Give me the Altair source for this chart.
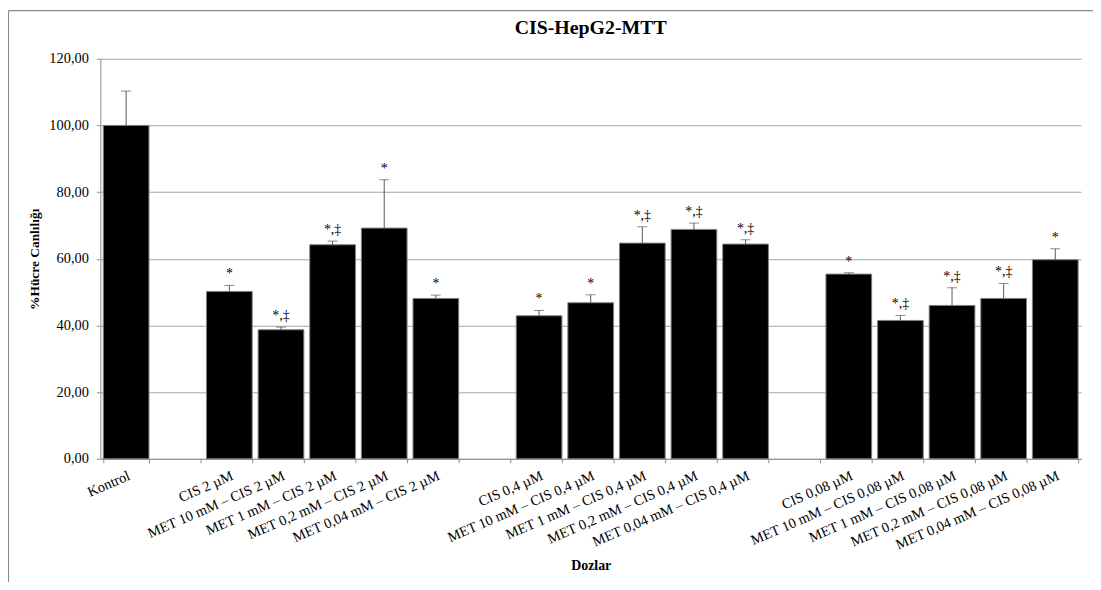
import altair as alt
import pandas as pd

categories = [
    "Kontrol", "_g1",
    "CIS 2 µM", "MET 10 mM – CIS 2 µM", "MET 1 mM – CIS 2 µM", "MET 0,2 mM – CIS 2 µM", "MET 0,04 mM – CIS 2 µM", "_g2",
    "CIS 0,4 µM", "MET 10 mM – CIS 0,4 µM", "MET 1 mM – CIS 0,4 µM", "MET 0,2 mM – CIS 0,4 µM", "MET 0,04 mM – CIS 0,4 µM", "_g3",
    "CIS 0,08 µM", "MET 10 mM – CIS 0,08 µM", "MET 1 mM – CIS 0,08 µM", "MET 0,2 mM – CIS 0,08 µM", "MET 0,04 mM – CIS 0,08 µM",
]
bar_names = [c for c in categories if not c.startswith("_g")]
values = [100.0, 50.2, 38.7, 64.2, 69.2, 48.1, 42.9, 46.8, 64.7, 68.8, 64.4, 55.4, 41.5, 46.0, 48.1, 59.7]
errors = [10.3, 1.8, 0.8, 1.1, 14.5, 1.0, 1.6, 2.4, 4.9, 1.9, 1.3, 0.4, 1.5, 5.3, 4.5, 3.3]
marks = ["", "*", "*,‡", "*,‡", "*", "*", "*", "*", "*,‡", "*,‡", "*,‡", "*", "*,‡", "*,‡", "*,‡", "*"]
chart_title = "CIS-HepG2-MTT"

df = pd.DataFrame({"doz": bar_names, "val": values, "err": errors, "mark": marks})
df["top"] = df["val"] + df["err"]

FONT = "Liberation Serif"
W, H = 988, 403

xscale = alt.Scale(domain=categories, paddingInner=0.115, paddingOuter=0.0575)
yscale = alt.Scale(domain=[0, 120], nice=False)

xenc = alt.X(
    "doz:N", scale=xscale, sort=categories,
    axis=alt.Axis(
        title="Dozlar", titleFont=FONT, titleFontSize=14, titleFontWeight="bold",
        titleX=W / 2, titleY=108, titleBaseline="middle", titleAlign="center",
        labelFont=FONT, labelFontSize=14.5, labelAngle=-23.5, labelAlign="right",
        labelBaseline="top", labelPadding=6, labelOverlap=False, labelLimit=0,
        labelColor="#000000",
        labelExpr="substring(datum.label, 0, 2) == '_g' ? '' : datum.label",
        tickBand="extent", tickSize=4, tickColor="#8c8c8c",
        domainColor="#8c8c8c", grid=False, gridOpacity=0,
    ),
)

yenc = alt.Y(
    "val:Q", scale=yscale,
    axis=alt.Axis(
        title="%Hücre Canlılığı", titleFont=FONT, titleFontSize=13.5, titleFontWeight="bold",
        titleX=-66, titleY=H / 2, titleAngle=-90, titleAlign="center", titleBaseline="middle",
        values=[0, 20, 40, 60, 80, 100, 120],
        labelExpr="replace(format(datum.value, '.2f'), '.', ',')",
        labelFont=FONT, labelFontSize=14.5, labelColor="#000000", labelPadding=8,
        tickSize=4, tickColor="#8c8c8c", domainColor="#8c8c8c",
        grid=True, gridColor="#a6a6a6", gridWidth=1,
    ),
)

one = pd.DataFrame({"a": [0]})
frame_left = alt.Chart(one).mark_rule(color="#8c8c8c", strokeWidth=1.2, clip=False).encode(
    x=alt.value(-92.5), y=alt.value(-48.5), y2=alt.value(700)
)
frame_top = alt.Chart(one).mark_rule(color="#8c8c8c", strokeWidth=1.2, clip=False).encode(
    x=alt.value(-92.5), x2=alt.value(1200), y=alt.value(-48.5)
)
title_mark = alt.Chart(pd.DataFrame({"t": [chart_title]})).mark_text(
    font=FONT, fontSize=20, fontWeight="bold", color="#000000", baseline="middle", align="center"
).encode(x=alt.value(W / 2), y=alt.value(-31), text="t:N")

bars = alt.Chart(df).mark_bar(color="#000000", stroke="#7f7f7f", strokeWidth=1).encode(
    x=xenc, y=yenc
)

err_rule = alt.Chart(df).mark_rule(color="#595959", strokeWidth=1).encode(
    x=alt.X("doz:N", scale=xscale, sort=categories),
    y=alt.Y("val:Q", scale=yscale),
    y2="top:Q",
)

err_cap = alt.Chart(df).mark_tick(color="#595959", thickness=1, size=10, orient="horizontal").encode(
    x=alt.X("doz:N", scale=xscale, sort=categories),
    y=alt.Y("top:Q", scale=yscale),
)

labels = alt.Chart(df).mark_text(
    font=FONT, fontSize=14, color="#000000", baseline="bottom", dy=-4
).encode(
    x=alt.X("doz:N", scale=xscale, sort=categories),
    y=alt.Y("top:Q", scale=yscale),
    text="mark:N",
)

chart = alt.layer(frame_left, frame_top, title_mark, bars, err_rule, err_cap, labels).properties(
    width=W, height=H,
    autosize=alt.AutoSizeParams(type="none"),
    padding={"left": 93, "top": 49, "right": 12, "bottom": 122},
    view=alt.ViewBackground(stroke="transparent", strokeWidth=0),
).configure_view(strokeWidth=0, stroke="transparent").configure(background="white")

chart.save("out.html", embed_options={"renderer": "svg", "actions": False})
